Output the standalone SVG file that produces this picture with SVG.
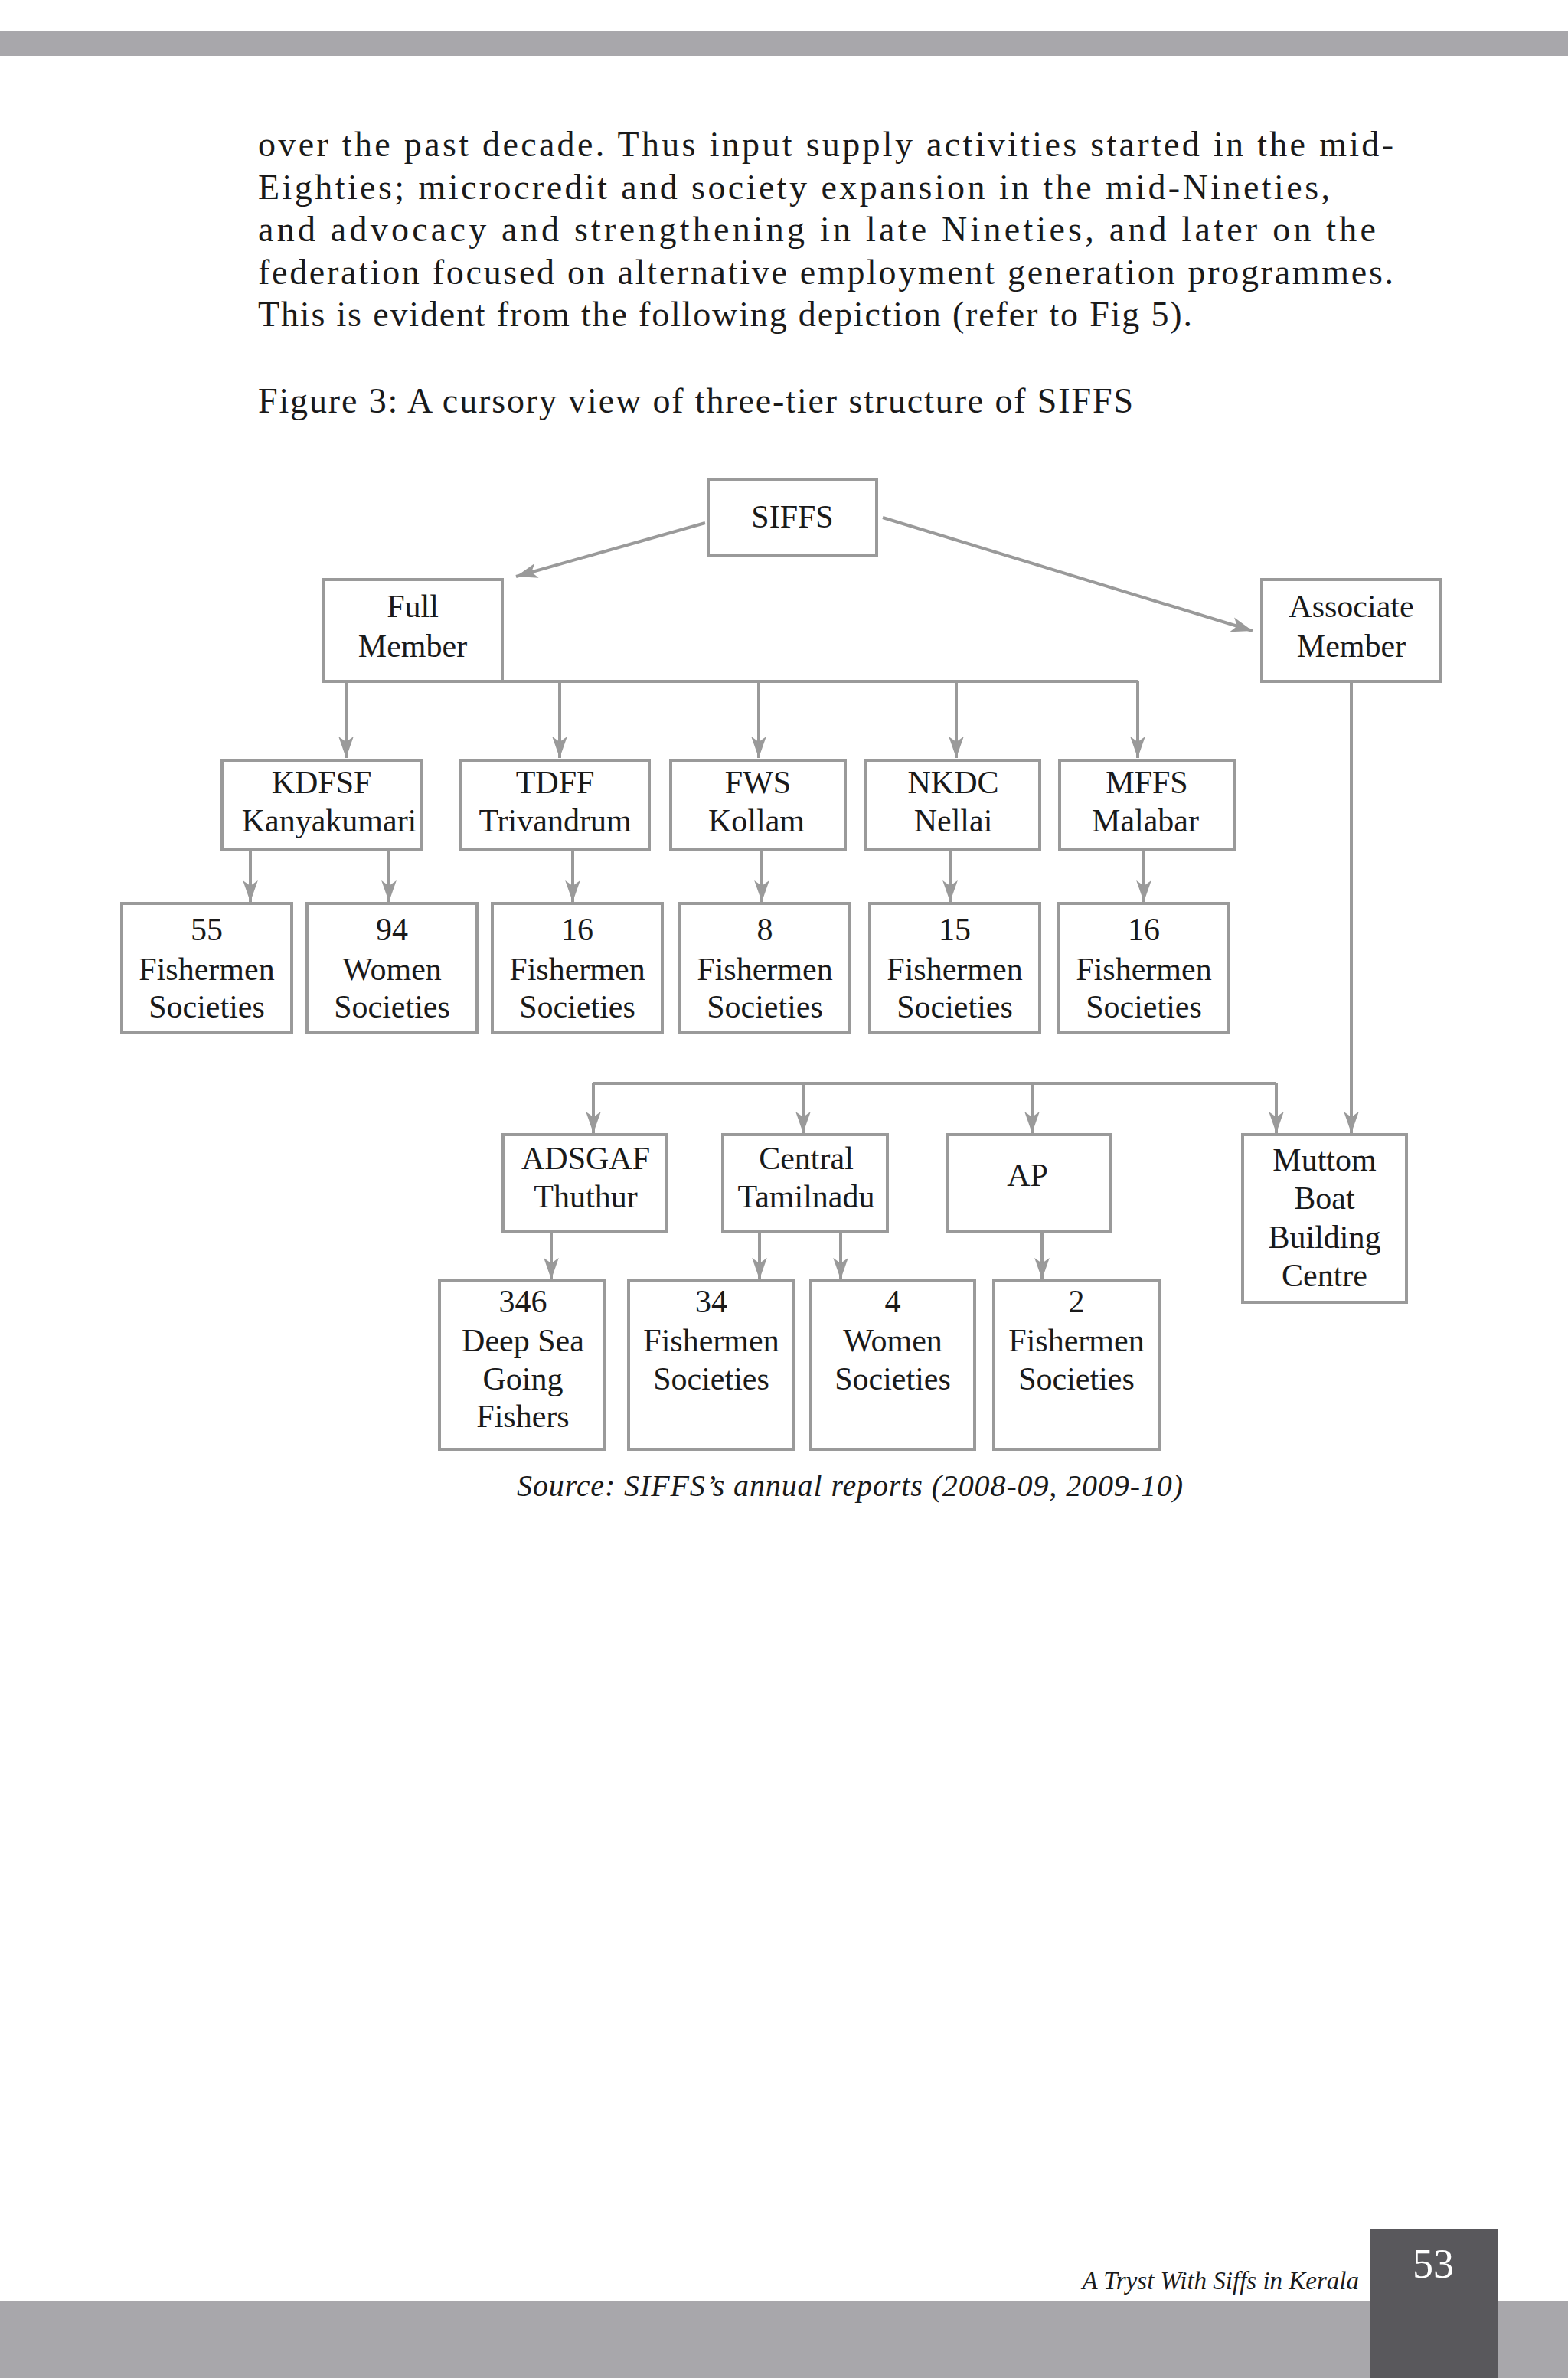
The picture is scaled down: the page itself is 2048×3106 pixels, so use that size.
<svg xmlns="http://www.w3.org/2000/svg" width="2048" height="3106" viewBox="0 0 2048 3106">
<style>
.b{fill:#fff;stroke:#9a9a9a;stroke-width:4}
.t{font-family:"Liberation Serif",serif;font-size:42px;fill:#1a1a1a;text-anchor:middle}
.p{font-family:"Liberation Serif",serif;font-size:46px;fill:#1a1a1a}
.c{fill:none;stroke:#9a9a9a;stroke-width:4}
</style>
<defs>
<marker id="a" viewBox="0 0 20 14" refX="20" refY="7" markerWidth="7" markerHeight="5" markerUnits="strokeWidth" orient="auto">
<path d="M0,0 L20,7 L0,14 L5,7 Z" fill="#9a9a9a"/>
</marker>
</defs>
<rect x="0" y="40" width="2048" height="33" fill="#a8a7ab"/>
<g class="p">
<text x="337" y="204" textLength="1483" lengthAdjust="spacing">over the past decade.  Thus input supply activities  started  in  the mid-</text>
<text x="337" y="260" textLength="1400" lengthAdjust="spacing">Eighties;  microcredit  and  society  expansion  in  the mid-Nineties,</text>
<text x="337" y="315" textLength="1460" lengthAdjust="spacing">and  advocacy  and  strengthening  in  late  Nineties,  and  later  on  the</text>
<text x="337" y="371" textLength="1483" lengthAdjust="spacing">federation  focused on alternative employment generation programmes.</text>
<text x="337" y="426" textLength="1220" lengthAdjust="spacing">This is evident from the following depiction (refer to Fig 5).</text>
<text x="337" y="539" textLength="1143" lengthAdjust="spacing">Figure 3: A cursory view of three-tier structure of SIFFS</text>
</g>
<g id="connectors" class="c" marker-end="url(#a)">
<path d="M921,683 L674,753"/>
<path d="M1153,676 L1636,824"/>
<path d="M656,890 H1486" marker-end="none"/>
<path d="M452,890 V990"/><path d="M731,890 V990"/><path d="M991,890 V990"/><path d="M1249,890 V990"/><path d="M1486,890 V990"/>
<path d="M327,1110 V1178"/><path d="M508,1110 V1178"/><path d="M748,1110 V1178"/><path d="M995,1110 V1178"/><path d="M1241,1110 V1178"/><path d="M1494,1110 V1178"/>
<path d="M1765,890 V1480"/>
<path d="M775,1415 H1667" marker-end="none"/>
<path d="M775,1415 V1480"/><path d="M1049,1415 V1480"/><path d="M1348,1415 V1480"/><path d="M1667,1415 V1480"/>
<path d="M720,1608 V1671"/><path d="M992,1608 V1671"/><path d="M1098,1608 V1671"/><path d="M1361,1608 V1671"/>
</g>
<g id="siffs"><rect class="b" x="925" y="626" width="220" height="99"/><text class="t" x="1035" y="689">SIFFS</text></g>
<g id="full"><rect class="b" x="422" y="757" width="234" height="133"/><text class="t" x="539" y="806">Full</text><text class="t" x="539" y="858">Member</text></g>
<g id="assoc"><rect class="b" x="1648" y="757" width="234" height="133"/><text class="t" x="1765" y="806">Associate</text><text class="t" x="1765" y="858">Member</text></g>
<g id="kdfsf"><rect class="b" x="290" y="993" width="261" height="117"/><text class="t" x="420" y="1036">KDFSF</text><text class="t" x="430" y="1086">Kanyakumari</text></g>
<g id="tdff"><rect class="b" x="602" y="993" width="246" height="117"/><text class="t" x="725" y="1036">TDFF</text><text class="t" x="725" y="1086">Trivandrum</text></g>
<g id="fws"><rect class="b" x="876" y="993" width="228" height="117"/><text class="t" x="990" y="1036">FWS</text><text class="t" x="988" y="1086">Kollam</text></g>
<g id="nkdc"><rect class="b" x="1131" y="993" width="227" height="117"/><text class="t" x="1245" y="1036">NKDC</text><text class="t" x="1245" y="1086">Nellai</text></g>
<g id="mffs"><rect class="b" x="1384" y="993" width="228" height="117"/><text class="t" x="1498" y="1036">MFFS</text><text class="t" x="1496" y="1086">Malabar</text></g>
<g id="r1"><rect class="b" x="159" y="1180" width="222" height="168"/><text class="t" x="270" y="1228">55</text><text class="t" x="270" y="1280">Fishermen</text><text class="t" x="270" y="1329">Societies</text></g>
<g id="r2"><rect class="b" x="401" y="1180" width="222" height="168"/><text class="t" x="512" y="1228">94</text><text class="t" x="512" y="1280">Women</text><text class="t" x="512" y="1329">Societies</text></g>
<g id="r3"><rect class="b" x="643" y="1180" width="222" height="168"/><text class="t" x="754" y="1228">16</text><text class="t" x="754" y="1280">Fishermen</text><text class="t" x="754" y="1329">Societies</text></g>
<g id="r4"><rect class="b" x="888" y="1180" width="222" height="168"/><text class="t" x="999" y="1228">8</text><text class="t" x="999" y="1280">Fishermen</text><text class="t" x="999" y="1329">Societies</text></g>
<g id="r5"><rect class="b" x="1136" y="1180" width="222" height="168"/><text class="t" x="1247" y="1228">15</text><text class="t" x="1247" y="1280">Fishermen</text><text class="t" x="1247" y="1329">Societies</text></g>
<g id="r6"><rect class="b" x="1383" y="1180" width="222" height="168"/><text class="t" x="1494" y="1228">16</text><text class="t" x="1494" y="1280">Fishermen</text><text class="t" x="1494" y="1329">Societies</text></g>
<g id="adsgaf"><rect class="b" x="657" y="1482" width="214" height="126"/><text class="t" x="765" y="1527">ADSGAF</text><text class="t" x="765" y="1577">Thuthur</text></g>
<g id="central"><rect class="b" x="944" y="1482" width="215" height="126"/><text class="t" x="1053" y="1527">Central</text><text class="t" x="1053" y="1577">Tamilnadu</text></g>
<g id="ap"><rect class="b" x="1237" y="1482" width="214" height="126"/><text class="t" x="1342" y="1549">AP</text></g>
<g id="muttom"><rect class="b" x="1623" y="1482" width="214" height="219"/><text class="t" x="1730" y="1529">Muttom</text><text class="t" x="1730" y="1579">Boat</text><text class="t" x="1730" y="1630">Building</text><text class="t" x="1730" y="1680">Centre</text></g>
<g id="deep"><rect class="b" x="574" y="1673" width="216" height="220"/><text class="t" x="683" y="1714">346</text><text class="t" x="683" y="1765">Deep Sea</text><text class="t" x="683" y="1815">Going</text><text class="t" x="683" y="1864">Fishers</text></g>
<g id="c34"><rect class="b" x="821" y="1673" width="215" height="220"/><text class="t" x="929" y="1714">34</text><text class="t" x="929" y="1765">Fishermen</text><text class="t" x="929" y="1815">Societies</text></g>
<g id="c4"><rect class="b" x="1059" y="1673" width="214" height="220"/><text class="t" x="1166" y="1714">4</text><text class="t" x="1166" y="1765">Women</text><text class="t" x="1166" y="1815">Societies</text></g>
<g id="c2"><rect class="b" x="1298" y="1673" width="216" height="220"/><text class="t" x="1406" y="1714">2</text><text class="t" x="1406" y="1765">Fishermen</text><text class="t" x="1406" y="1815">Societies</text></g>
<text x="1110" y="1954" font-family="Liberation Serif,serif" font-style="italic" font-size="40" fill="#1a1a1a" text-anchor="middle" textLength="870" lengthAdjust="spacing">Source: SIFFS’s annual reports (2008-09, 2009-10)</text>
<rect x="0" y="3005" width="2048" height="101" fill="#a8a7ab"/>
<rect x="1790" y="2911" width="166" height="195" fill="#59585c"/>
<text x="1872" y="2975" font-family="Liberation Serif,serif" font-size="54" fill="#fff" text-anchor="middle">53</text>
<text x="1775" y="2990" font-family="Liberation Serif,serif" font-style="italic" font-size="33" fill="#1a1a1a" text-anchor="end">A Tryst With Siffs in Kerala</text>
</svg>
